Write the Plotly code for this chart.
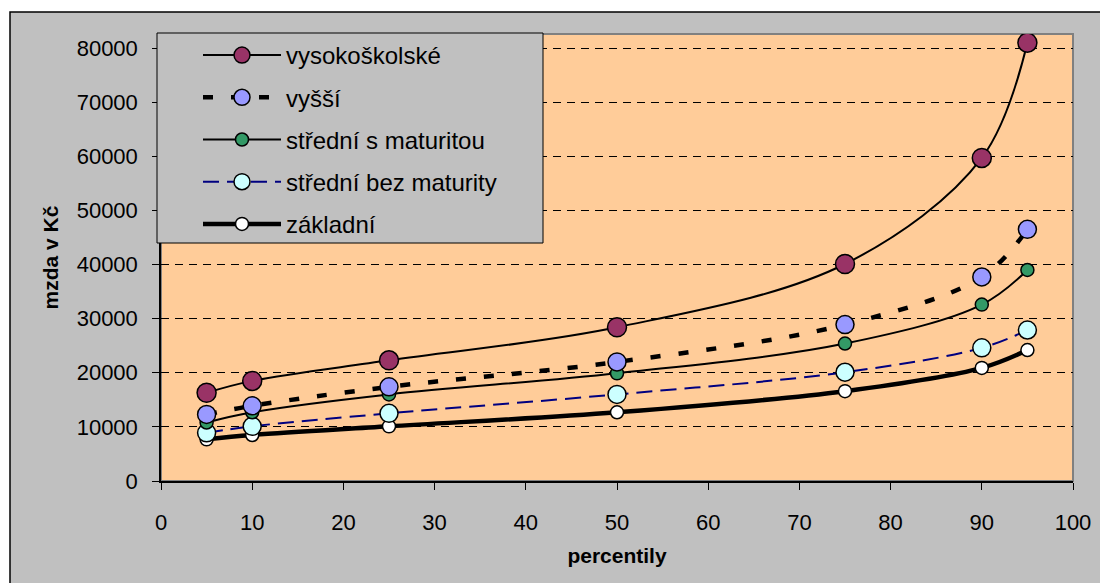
import plotly.graph_objects as go

# percentiles on the x axis
percentily = [5, 10, 25, 50, 75, 90, 95]

# monthly wage (CZK) by education level
vysokoskolske = [16300, 18500, 22300, 28400, 40100, 59700, 81000]
vyssi = [12300, 13900, 17400, 22000, 28900, 37700, 46500]
stredni_s_maturitou = [10800, 12700, 16000, 19900, 25400, 32600, 39000]
stredni_bez_maturity = [8900, 10100, 12500, 16000, 20100, 24600, 27900]
zakladni = [7700, 8500, 10100, 12700, 16600, 20900, 24200]

series_names = ["vysokoškolské", "vyšší", "střední s maturitou",
                "střední bez maturity", "základní"]
x_ticks = list(range(0, 101, 10))
y_ticks = list(range(0, 80001, 10000))

FONT = "Liberation Sans, Arial, sans-serif"

styles = [
    dict(line=dict(color="black", width=2, shape="spline", smoothing=1),
         marker=dict(size=19, color="#993366", line=dict(color="black", width=1.5))),
    dict(line=dict(color="black", width=4.5, dash="10px,18px", shape="spline", smoothing=1),
         marker=dict(size=18, color="#9999FF", line=dict(color="black", width=1.5))),
    dict(line=dict(color="black", width=2, shape="spline", smoothing=1),
         marker=dict(size=13, color="#339966", line=dict(color="black", width=1.5))),
    dict(line=dict(color="#000080", width=2, dash="16px,8px", shape="spline", smoothing=1),
         marker=dict(size=18, color="#CCFFFF", line=dict(color="black", width=1.5))),
    dict(line=dict(color="black", width=4.5, shape="spline", smoothing=1),
         marker=dict(size=13, color="white", line=dict(color="black", width=1.5))),
]

data = [vysokoskolske, vyssi, stredni_s_maturitou, stredni_bez_maturity, zakladni]

fig = go.Figure()
# draw lowest series first so the top ones sit above
for i in reversed(range(len(data))):
    fig.add_trace(go.Scatter(
        x=percentily, y=data[i], name=series_names[i], mode="lines+markers",
        legendgroup=f"g{i}", legendrank=i + 1, **styles[i]))

PW, PH = 1073 - 161, 481 - 34


def px_x(px):
    return (px - 161) / PW


def px_y(py):
    return (481 - py) / PH


# grey chart area with black left/top edge
fig.add_shape(type="rect", xref="paper", yref="paper", layer="below",
              x0=px_x(10), x1=px_x(1105), y0=px_y(590), y1=px_y(12),
              fillcolor="#C0C0C0", line=dict(color="black", width=1.5))
# plot area frame
fig.add_shape(type="rect", xref="paper", yref="paper", layer="below",
              x0=0, x1=1, y0=0, y1=1,
              fillcolor="#FFCC99", line=dict(color="#808080", width=2))
# legend box
fig.add_shape(type="rect", xref="paper", yref="paper", layer="above",
              x0=px_x(157), x1=px_x(543), y0=px_y(243), y1=px_y(33),
              fillcolor="#C0C0C0", line=dict(color="black", width=1))

fig.update_layout(
    width=1100, height=583,
    margin=dict(l=161, r=27, t=34, b=102, autoexpand=False),
    paper_bgcolor="white", plot_bgcolor="rgba(0,0,0,0)",
    font=dict(family=FONT, size=22, color="black"),
    showlegend=True,
    legend=dict(x=px_x(157), y=px_y(33), xanchor="left", yanchor="top",
                bgcolor="rgba(0,0,0,0)", borderwidth=0,
                font=dict(family=FONT, size=24, color="black"),
                tracegroupgap=8, traceorder="grouped",
                itemwidth=78, indentation=41),
    xaxis=dict(range=[0, 100], tickvals=x_ticks, ticks="outside", ticklen=7,
               tickcolor="black", showline=True, linecolor="black", linewidth=1.5,
               showgrid=False, zeroline=False, ticklabelstandoff=14, automargin=False,
               title=dict(text="<b>percentily</b>", font=dict(size=21), standoff=14),
               tickfont=dict(size=22)),
    yaxis=dict(range=[0, 82600], tickvals=y_ticks, tickformat="d",
               ticks="outside", ticklen=7, ticklabelstandoff=10, automargin=False,
               tickcolor="black", showline=True, linecolor="black", linewidth=1.5,
               showgrid=True, gridcolor="black", gridwidth=1, griddash="8px,6px",
               zeroline=False,
               title=dict(text="<b>mzda v Kč</b>", font=dict(size=21), standoff=12),
               tickfont=dict(size=22)),
)

fig.write_html("out.html")
